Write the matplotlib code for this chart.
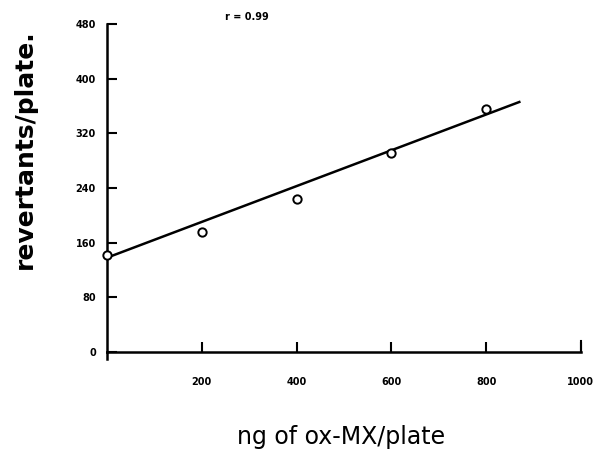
import matplotlib
matplotlib.use("Agg")
import matplotlib.pyplot as plt

# dose (ng of ox-MX per plate) and revertant counts
dose = [0, 200, 400, 600, 800]
revertants = [142, 175, 224, 292, 356]

# regression line end points
fit_x = [0, 870]
fit_y = [138, 366]

x_ticks = [200, 400, 600, 800, 1000]
y_ticks = [0, 80, 160, 240, 320, 400, 480]

fig = plt.figure(figsize=(5.94, 4.55), dpi=100)
ax = fig.add_axes([0.180, 0.2264, 0.798, 0.7206])

ax.plot(fit_x, fit_y, color="black", lw=1.8, clip_on=False, zorder=2)
ax.plot(dose, revertants, "o", mfc="white", mec="black", ms=6, mew=1.4,
        clip_on=False, zorder=3)

ax.set_xlim(0, 1000)
ax.set_ylim(0, 480)
ax.set_xticks(x_ticks)
ax.set_yticks(y_ticks)
ax.tick_params(axis="both", direction="in", width=1.5, length=7,
               labelsize=7)
ax.tick_params(axis="x", pad=18)
ax.tick_params(axis="y", pad=8)
for lab in ax.get_xticklabels() + ax.get_yticklabels():
    lab.set_fontweight("bold")

for side in ("top", "right"):
    ax.spines[side].set_visible(False)
for side in ("left", "bottom"):
    ax.spines[side].set_linewidth(1.8)

# small tick at the end of the x axis, and the y axis running past zero
ax.plot([1000, 1000], [0, 16], color="black", lw=1.5, clip_on=False)
ax.plot([0, 0], [0, -10], color="black", lw=1.8, clip_on=False)

ax.text(295, 490, "r = 0.99", fontsize=7, fontweight="bold",
        ha="center", va="center")

fig.text(0.042, 0.672, "revertants/plate.", rotation=90, fontsize=18,
         fontweight="bold", ha="center", va="center")
fig.text(0.575, 0.04, "ng of ox-MX/plate", fontsize=17,
         fontweight="medium", ha="center", va="center")

fig.savefig("out.png", dpi=100)
